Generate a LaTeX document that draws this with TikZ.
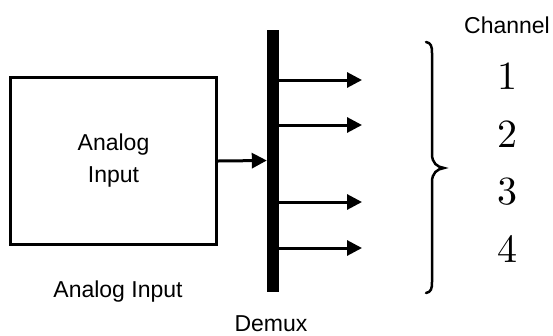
\documentclass[tikz,border=0pt]{standalone}
\usepackage{fontspec}
\setsansfont{Liberation Sans}
\newfontfamily\digitfont{lmroman10-regular.otf}
\usetikzlibrary{arrows.meta}
\begin{document}
\begin{tikzpicture}[x=1pt,y=-1pt,
  lbl/.style={font=\sffamily\fontsize{23}{32}\selectfont, inner sep=0pt},
  num/.style={font=\digitfont\fontsize{40}{44}\selectfont, inner sep=0pt, anchor=base},
  sig/.style={line width=3pt, -{Triangle[length=15pt,width=15pt]}},
]
\useasboundingbox[fill=white] (0,0) rectangle (553,335);
% source block
\node[draw, line width=3.2pt, minimum width=206pt, minimum height=167pt,
      inner sep=0pt, lbl, align=center] (src) at (113.5,161) {Analog\\Input};
\node[lbl, anchor=base] (srclbl) at (118,297) {Analog Input};
% demux bar
\node[fill=black, minimum width=12pt, minimum height=262pt, inner sep=0pt] (bar) at (273,160.5) {};
\node[lbl, anchor=base] (demuxlbl) at (271,331) {Demux};
% input
\draw[sig] (src.east) -- (bar.west);
% outputs
\coordinate (o1) at (362,80);
\coordinate (o2) at (362,125);
\coordinate (o3) at (362,202);
\coordinate (o4) at (362,248);
\foreach \k in {1,2,3,4}{
  \draw[sig] (bar.east |- o\k) -- (o\k);
}
% brace
\draw[line width=2.5pt, line cap=round]
  (426,42) .. controls (431,43) and (432,46) .. (432,53)
  -- (432,154) .. controls (432,163) and (437,167) .. (444,168)
  .. controls (437,169) and (432,173) .. (432,182)
  -- (432,282) .. controls (432,289) and (431,292) .. (426,293);
% channel labels
\node[lbl, anchor=base] (chan) at (507,33) {Channel};
\node[num] (n1) at (507,89) {1};
\node[num] (n2) at (507,147) {2};
\node[num] (n3) at (507,204) {3};
\node[num] (n4) at (507,262) {4};
\end{tikzpicture}
\end{document}
